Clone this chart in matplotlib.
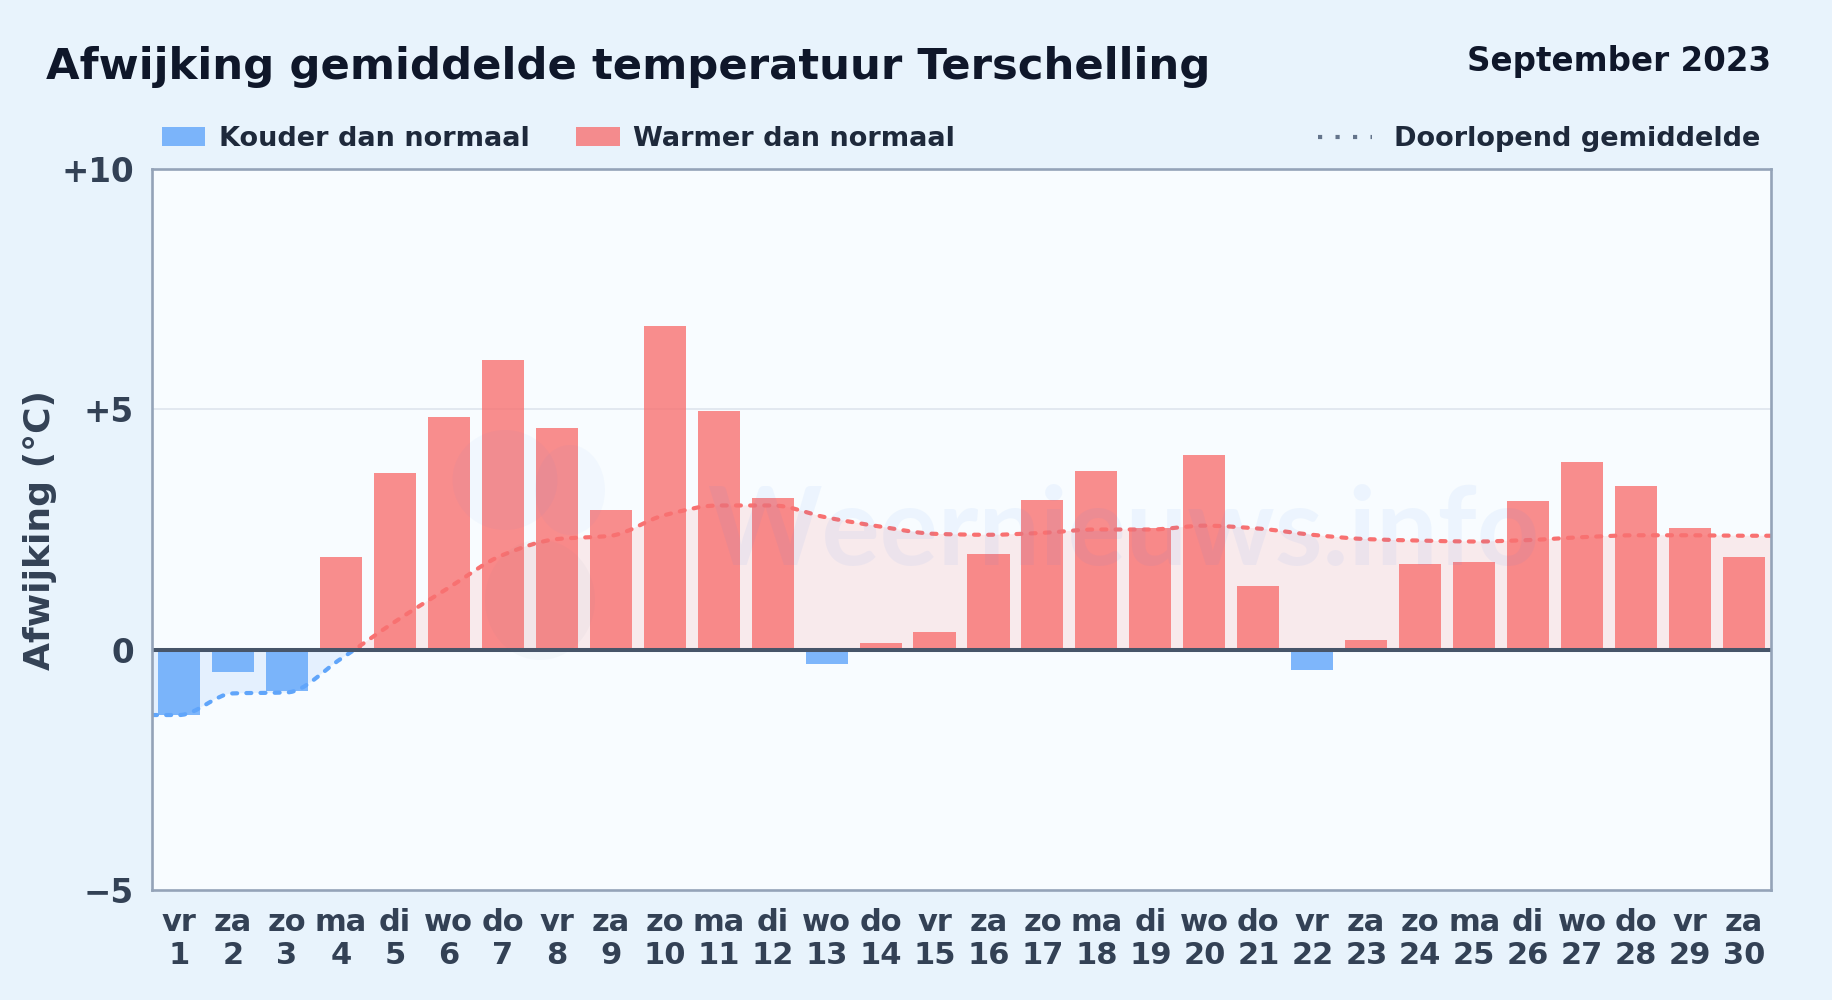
import numpy as np
import matplotlib
matplotlib.use("Agg")
import matplotlib.pyplot as plt
from matplotlib.patches import Patch, PathPatch, Ellipse
from matplotlib.lines import Line2D
from matplotlib.path import Path

days = list(range(1, 31))
weekdays = ['vr', 'za', 'zo', 'ma', 'di', 'wo', 'do', 'vr', 'za', 'zo', 'ma', 'di', 'wo', 'do', 'vr',
            'za', 'zo', 'ma', 'di', 'wo', 'do', 'vr', 'za', 'zo', 'ma', 'di', 'wo', 'do', 'vr', 'za']
deviation = [-1.36, -0.46, -0.85, 1.92, 3.67, 4.84, 6.03, 4.62, 2.90, 6.74,
             4.96, 3.16, -0.29, 0.14, 0.37, 2.00, 3.11, 3.72, 2.53, 4.04,
             1.32, -0.42, 0.20, 1.78, 1.82, 3.09, 3.90, 3.41, 2.53, 1.92]
running_mean = [-1.36, -0.91, -0.89, -0.19, 0.58, 1.29, 1.97, 2.30, 2.37, 2.80,
                3.00, 3.00, 2.75, 2.56, 2.41, 2.39, 2.43, 2.50, 2.50, 2.58,
                2.52, 2.39, 2.30, 2.27, 2.25, 2.28, 2.34, 2.38, 2.38, 2.37]
ytick_vals = [-5, 0, 5, 10]
ytick_labels = ['\u22125', '0', '+5', '+10']

W, H = 1832, 1000
BLUE = '#60a5fa'
RED = '#f87171'
DARK = '#334155'


def monotone_path(x, y):
    # curve through the points, no overshoot between them
    x = np.asarray(x, float)
    y = np.asarray(y, float)
    h = np.diff(x)
    s = np.diff(y) / h
    t = np.zeros(len(x))
    for i in range(1, len(x) - 1):
        if s[i - 1] * s[i] > 0:
            t[i] = 2 * s[i - 1] * s[i] / (s[i - 1] + s[i])
    verts = [(x[0], y[0])]
    codes = [Path.MOVETO]
    for i in range(len(h)):
        verts += [(x[i] + h[i] / 3, y[i] + t[i] * h[i] / 3),
                  (x[i + 1] - h[i] / 3, y[i + 1] - t[i + 1] * h[i] / 3),
                  (x[i + 1], y[i + 1])]
        codes += [Path.CURVE4] * 3
    return verts, codes


fig = plt.figure(figsize=(W / 100, H / 100), dpi=100, facecolor='#e8f3fc')
ax = fig.add_axes([152 / W, 1 - 890 / H, (1771 - 152) / W, (890 - 169) / H])
ax.set_facecolor('#f8fcff')
ax.set_xlim(0.5, 30.5)
ax.set_ylim(-5, 10)

colors = [BLUE if v < 0 else RED for v in deviation]
ax.bar(days, deviation, width=0.78, color=colors, alpha=0.8, zorder=3)

# running mean, flat out to both edges of the plot
xs = [0.5] + days + [30.5]
ys = [running_mean[0]] + running_mean + [running_mean[-1]]
verts, codes = monotone_path(xs, ys)
area_verts = verts + [(30.5, 0), (0.5, 0), (0.5, ys[0])]
area_codes = codes + [Path.LINETO, Path.LINETO, Path.CLOSEPOLY]

clip_pos = plt.Rectangle((0.5, 0), 30, 10, transform=ax.transData)
clip_neg = plt.Rectangle((0.5, -5), 30, 5, transform=ax.transData)
for col, clip in [(RED, clip_pos), (BLUE, clip_neg)]:
    area = PathPatch(Path(area_verts, area_codes), facecolor=col, edgecolor='none', alpha=0.13, zorder=2)
    ax.add_patch(area)
    area.set_clip_path(clip)
    line = PathPatch(Path(verts, codes), facecolor='none', edgecolor=col, lw=3,
                     linestyle=(0, (1.2, 2.2)), capstyle='round', zorder=4)
    ax.add_patch(line)
    line.set_clip_path(clip)

ax.axhline(0, color='#475569', lw=2.9, zorder=5)
ax.axhline(5, color='#e2e8f0', lw=1.4, zorder=1)

# watermark
ax.text(0.6, 0.495, 'Weernieuws.info', transform=ax.transAxes, ha='center', va='center',
        fontsize=78.5, family='Lato', weight='bold', color='#3b82f6', alpha=0.06, zorder=6)
for cx, cy, ew, eh, col in [(505, 480, 105, 100, '#3b82f6'), (570, 490, 70, 90, '#3b82f6'),
                            (540, 600, 110, 120, '#64748b')]:
    ax.add_patch(Ellipse((cx / W, 1 - cy / H), ew / W, eh / H, transform=fig.transFigure,
                         facecolor=col, edgecolor='none', alpha=0.035, zorder=6))

ax.set_xticks(days)
ax.set_xticklabels([f'{d}\n{n}' for d, n in zip(weekdays, days)], fontsize=22, fontweight='bold',
                   color=DARK, linespacing=1.16)
ax.set_yticks(ytick_vals)
ax.set_yticklabels(ytick_labels, fontsize=23.5, fontweight='bold', color=DARK)
ax.tick_params(axis='both', length=0)
ax.tick_params(axis='x', pad=13)
ax.tick_params(axis='y', pad=13)
for sp in ax.spines.values():
    sp.set_color('#94a3b8')
    sp.set_linewidth(1.9)
    sp.set_zorder(7)

fig.text(40 / W, 1 - 530 / H, 'Afwijking (\u00b0C)', rotation=90, ha='center', va='center',
         fontsize=26, fontweight='bold', color=DARK)
fig.text(46 / W, 1 - 79 / H, 'Afwijking gemiddelde temperatuur Terschelling', fontsize=31.2,
         fontweight='bold', color='#0f172a')
fig.text(1771 / W, 1 - 71 / H, 'September 2023', ha='right', fontsize=23.45, fontweight='bold', color='#0f172a')

handles = [Patch(facecolor=BLUE, alpha=0.8, label='Kouder dan normaal'),
           Patch(facecolor=RED, alpha=0.8, label='Warmer dan normaal')]
leg = ax.legend(handles=handles, loc='lower left', bbox_to_anchor=(162 / W, 1 - 152 / H), bbox_transform=fig.transFigure,
                ncol=2, frameon=False, handlelength=1.6, handleheight=0.7, handletextpad=0.5,
                columnspacing=1.72, borderpad=0, borderaxespad=0,
                prop={'weight': 'bold', 'size': 19.5})
for t in leg.get_texts():
    t.set_color('#1e293b')
ax.add_artist(leg)
leg2 = ax.legend(handles=[Line2D([], [], color='#64748b', lw=3, linestyle=(0, (1, 3.2)), label='Doorlopend gemiddelde')],
                 loc='lower right', bbox_to_anchor=(1760 / W, 1 - 152 / H), bbox_transform=fig.transFigure,
                 frameon=False, handlelength=2.0, handletextpad=0.8, borderpad=0, borderaxespad=0,
                 prop={'weight': 'bold', 'size': 19.5})
for t in leg2.get_texts():
    t.set_color('#1e293b')

fig.savefig('out.png', dpi=100, facecolor=fig.get_facecolor())
